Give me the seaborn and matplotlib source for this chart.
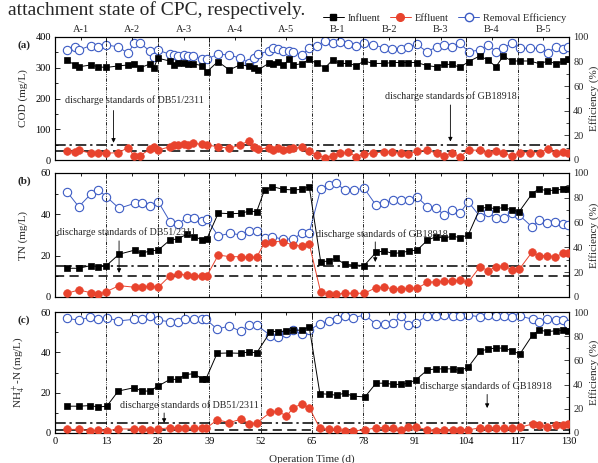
import numpy as np
import pandas as pd
import matplotlib
matplotlib.use("Agg")
import matplotlib.pyplot as plt
import matplotlib.transforms as mtransforms
from matplotlib.lines import Line2D
from matplotlib.ticker import MultipleLocator
import seaborn as sns

sns.set_theme(style="white")
plt.rcParams['font.family'] = ['Liberation Serif', 'DejaVu Serif']
plt.rcParams['mathtext.fontset'] = 'stix'

# ---------------- data ----------------
segment_labels = ["A-1", "A-2", "A-3", "A-4", "A-5", "B-1", "B-2", "B-3", "B-4", "B-5"]
segment_bounds = [13, 26, 39, 52, 65, 78, 91, 104, 117]

cod_days = [3, 5, 6, 9, 11, 13,
            16, 18.5, 20, 21.5, 24, 25, 26,
            29, 30, 31.2, 32.5, 33.7, 35, 37.1, 38.4,
            41.2, 44.1, 46.9, 49.1, 50.3, 51.4,
            54, 55.2, 56.5, 57.7, 59.3, 60.3, 62.4, 64.3,
            66.2, 68.3, 70.2, 72.1, 74.2, 76.2, 78.2,
            80.5, 83.2, 85.3, 87.4, 89.4, 91.5,
            94.1, 96.5, 98.3, 100.5, 102.4, 104.6,
            107.4, 109.6, 111.5, 113.4, 115.5, 117.6,
            120.1, 122.6, 124.7, 126.6, 128.6, 129.8]
cod_influent = [325, 309, 303, 309, 303, 301,
                306, 309, 312, 300, 312, 300, 331,
                322, 309, 314, 317, 311, 313, 307, 287,
                320, 293, 310, 305, 298, 293,
                314, 311, 320, 309, 327, 309, 313, 327,
                314, 300, 325, 314, 314, 307, 322,
                314, 314, 317, 317, 317, 317,
                307, 303, 311, 311, 301, 320,
                338, 325, 303, 338, 322, 322,
                322, 313, 322, 313, 322, 327]
cod_effluent = [29, 27, 32, 22, 24, 22,
                24, 40, 14, 14, 35, 41, 32,
                43, 49, 49, 51, 50, 54, 51, 49,
                43, 38, 49, 63, 43, 35,
                40, 33, 40, 33, 35, 38, 41, 29,
                16, 8, 14, 22, 25, 11, 19,
                22, 27, 27, 22, 19, 29,
                32, 22, 14, 22, 11, 32,
                32, 22, 29, 22, 13, 24,
                24, 24, 36, 22, 27, 22]
cod_removal = [89.4, 92, 89.4, 93, 92, 93.5,
               92, 86.7, 95, 95, 88.6, 84, 89.4,
               86, 85.5, 84.8, 85, 84.8, 84.8, 82, 82,
               86, 85.4, 82.7, 79, 82.7, 86,
               88.6, 90.8, 90, 88.6, 88.6, 88, 85.4, 90.8,
               93, 96.7, 95, 96, 94, 93, 95,
               93.5, 91.3, 90.2, 90.2, 92, 94,
               88, 92, 93.5, 92, 95, 88,
               89.4, 93.5, 88, 90.8, 95, 90.8,
               90.8, 90.8, 87.2, 92, 90, 92]

tn_days = [3, 6, 9, 11, 13,
           16.2, 20.2, 21.9, 24, 26.1,
           29.1, 31, 33.3, 35.2, 37.3, 38.4,
           41.3, 44.3, 47.1, 49.1, 51,
           53, 55, 57.7, 60.3, 62.4, 64.3,
           67.2, 69.4, 71.1, 73.3, 75.5, 78.2,
           81.2, 83.2, 85.4, 87.5, 89.6, 91.6,
           94.2, 96.4, 98.4, 100.5, 102.4, 104.5,
           107.5, 109.6, 111.5, 113.6, 115.5, 117.4,
           120.6, 122.3, 124.5, 126.5, 128.6, 129.7]
tn_influent = [13.9, 13.9, 15.2, 14.7, 15.2,
               20.7, 22.7, 21.1, 22.3, 22.7,
               27.6, 28.1, 30.3, 29.2, 27.6, 28.1,
               40.6, 40.3, 40.5, 41.6, 41.3,
               51.8, 53.4, 52.1, 51.8, 52.1, 53.4,
               17.1, 17.4, 18.7, 15.8, 15.5, 15.2,
               21.6, 22.3, 21.1, 21.4, 22.3, 22.7,
               27.5, 29.2, 28.4, 29.5, 28.7, 30.0,
               42.9, 43.4, 42.6, 43.4, 42.1, 41.3,
               49.8, 52.3, 51.4, 51.8, 52.1, 52.1]
tn_effluent = [1.8, 3.4, 2.1, 1.3, 2.6,
               5.5, 4.7, 4.7, 5.3, 4.7,
               10.3, 11.1, 10.6, 10.2, 10.2, 10.2,
               20.3, 19.5, 19.5, 19.2, 19.2,
               26.3, 26.8, 26.8, 25.0, 24.7, 25.7,
               2.3, 1.3, 1.3, 1.8, 1.8, 1.8,
               4.5, 4.7, 4.0, 4.0, 4.2, 4.2,
               7.1, 7.4, 7.7, 7.7, 8.2, 7.1,
               14.7, 12.6, 14.7, 15.2, 13.1, 13.4,
               21.6, 20.0, 20.0, 19.5, 21.1, 21.1]
tn_removal = [85, 72.8, 82.8, 86.3, 80.9,
              71.5, 75.6, 75.6, 73.4, 76.9,
              60.7, 58.6, 64, 64, 61.3, 62.6,
              49.2, 51.4, 50, 53.2, 53.2,
              47.3, 48.6, 46.5, 47, 51.4, 51.9,
              87, 90.3, 91.7, 86.3, 86.3, 87.6,
              74, 76, 78, 78.5, 78.5, 80.5,
              72.8, 72, 66.1, 70.2, 67.5, 76.9,
              64.8, 68.8, 63.4, 64, 67.5, 66.1,
              56.7, 62.1, 59.4, 60.2, 58.9, 58.1]

nh4_days = [3, 6.1, 8.9, 11, 13.1,
            16, 20.1, 21.9, 24, 26.1,
            29.1, 31, 33, 35.2, 37.1, 38.2,
            41, 44.1, 47, 49.1, 51,
            54.5, 56.5, 58.5, 60.3, 62.4, 64.3,
            67, 69.4, 71.2, 73.3, 75.3, 78.4,
            81.2, 83.5, 85.6, 87.5, 89.4, 91.3,
            94.2, 96.4, 98.4, 100.6, 102.4, 104.5,
            107.5, 109.6, 111.5, 113.6, 115.5, 117.6,
            120.8, 122.5, 124.5, 126.7, 128.6, 129.8]
nh4_influent = [13.3, 13.3, 13.6, 12.9, 13.3,
                20.8, 22.5, 20.8, 20.8, 23.3,
                26.6, 26.6, 29.0, 29.4, 26.9, 26.9,
                39.5, 39.7, 39.5, 40.3, 39.7,
                50.3, 50.3, 50.5, 51.0, 51.0, 52.6,
                19.5, 19.2, 18.7, 19.8, 18.3, 17.9,
                24.7, 24.7, 24.1, 24.1, 24.7, 26.4,
                31.3, 31.8, 31.8, 31.8, 31.0, 32.6,
                40.5, 41.7, 42.1, 42.1, 40.8, 39.2,
                48.7, 51.0, 50.3, 50.7, 51.0, 50.7]
nh4_effluent = [1.8, 1.8, 1.1, 1.5, 1.1,
                2.0, 2.0, 2.0, 1.5, 2.0,
                2.6, 2.6, 2.3, 2.3, 2.3, 2.3,
                6.5, 5.2, 6.8, 4.7, 5.0,
                10.3, 10.8, 8.3, 12.6, 14.3, 12.6,
                2.3, 1.8, 1.8, 1.1, 1.1, 1.5,
                2.6, 2.6, 2.3, 1.5, 3.2, 3.0,
                1.5, 1.1, 1.5, 1.5, 1.5, 1.5,
                2.6, 2.3, 2.6, 2.3, 2.3, 2.8,
                4.5, 4.0, 3.2, 4.0, 4.0, 4.5]
nh4_removal = [94.8, 93.2, 95.9, 94, 95.3,
               92.6, 94, 94, 96.7, 93.2,
               92, 92, 94, 94, 94, 94,
               85.8, 88.5, 83.9, 89.3, 89.3,
               80.5, 79, 82.5, 85, 81.7, 85,
               90.4, 92.6, 94, 96.7, 95.3, 97.5,
               89.9, 89.9, 91.2, 96.7, 89.3, 91.2,
               96.7, 96.7, 97.5, 96.7, 96.7, 97.5,
               95.9, 97.5, 96.7, 96.7, 95.9, 96.7,
               94, 92, 94, 93.2, 93.2, 90.4]

# discharge standards: (GB18918, DB51/2311)
cod_limits = (50, 30)
tn_limits = (15, 10)
nh4_limits = (5, 1.5)

# ---------------- styling ----------------
RED = "#e8432d"
BLUE = "#3d5cc4"
W, H = 598, 463
fig = plt.figure(figsize=(W / 100, H / 100), dpi=100)
fig.patch.set_facecolor("white")

left = 55 / W
width = (569 - 55) / W
def axrect(top_px, bot_px):
    return [left, 1 - bot_px / H, width, (bot_px - top_px) / H]

panels = [
    dict(rect=axrect(37, 160), days=cod_days, inf=cod_influent, eff=cod_effluent, rem=cod_removal,
         ymax=400, major=100, minor=50, ylabel="COD (mg/L)", tag="(a)", lim=cod_limits,
         db=dict(tx=2.5, ty=195, ax=14.8, ay0=170, ay1=47),
         gb=dict(tx=83.5, ty=208, ax=100, ay0=188, ay1=51)),
    dict(rect=axrect(173, 297), days=tn_days, inf=tn_influent, eff=tn_effluent, rem=tn_removal,
         ymax=60, major=20, minor=10, ylabel="TN (mg/L)", tag="(b)", lim=tn_limits,
         db=dict(tx=0.4, ty=31.5, ax=16.2, ay0=28.5, ay1=10.3),
         gb=dict(tx=66.0, ty=30.5, ax=81.0, ay0=28.0, ay1=15.6)),
    dict(rect=axrect(312, 433), days=nh4_days, inf=nh4_influent, eff=nh4_effluent, rem=nh4_removal,
         ymax=60, major=20, minor=10, ylabel=r"NH$_4^+$-N (mg/L)", tag="(c)", lim=nh4_limits,
         db=dict(tx=16.4, ty=13.8, ax=27.6, ay0=11.3, ay1=3.6),
         gb=dict(tx=92.3, ty=23.0, ax=109.3, ay0=20.5, ay1=11.0)),
]

FS = 7.5
for i, p in enumerate(panels):
    ax = fig.add_axes(p["rect"])
    ax2 = ax.twinx()
    ax.set_zorder(ax2.get_zorder() + 1)
    ax.patch.set_visible(False)

    # vertical segment separators
    for b in segment_bounds:
        ax.axvline(b, color="black", lw=0.6, ls=(0, (4, 1.5, 1, 1.5, 1, 1.5)), zorder=1)
    # standards
    ax.axhline(p["lim"][0], color="black", lw=1.1, ls=(0, (7, 2.5, 1.5, 2.5)), zorder=1)
    ax.axhline(p["lim"][1], color="black", lw=1.1, ls=(0, (6, 3.5)), zorder=1)

    sns.lineplot(x=p["days"], y=p["inf"], ax=ax, color="black", lw=0.7, marker="s",
                 markersize=5, markeredgecolor="black", markeredgewidth=0.5, zorder=4)
    sns.lineplot(x=p["days"], y=p["eff"], ax=ax, color=RED, lw=0.7, marker="o",
                 markersize=5.5, markeredgecolor=RED, markeredgewidth=0.5, zorder=4)
    sns.lineplot(x=p["days"], y=p["rem"], ax=ax2, color=BLUE, lw=0.7, marker="o",
                 markersize=6, markerfacecolor="white", markeredgecolor=BLUE,
                 markeredgewidth=0.8, zorder=3)

    ax.set_xlim(0, 130)
    ax.set_ylim(0, p["ymax"])
    ax2.set_ylim(0, 100)
    ax.xaxis.set_major_locator(MultipleLocator(13))
    ax.xaxis.set_minor_locator(MultipleLocator(6.5))
    ax.yaxis.set_major_locator(MultipleLocator(p["major"]))
    ax.yaxis.set_minor_locator(MultipleLocator(p["minor"]))
    ax2.yaxis.set_major_locator(MultipleLocator(20))
    ax2.yaxis.set_minor_locator(MultipleLocator(10))

    ax.tick_params(axis="both", which="both", direction="in", top=True, labelsize=FS,
                   colors="black", pad=3)
    ax.tick_params(which="major", length=3.5, width=0.6)
    ax.tick_params(which="minor", length=2, width=0.6)
    ax.tick_params(axis="y", right=False)
    ax2.tick_params(axis="y", which="both", direction="in", labelsize=FS, pad=3)
    ax2.tick_params(which="major", length=3.5, width=0.6)
    ax2.tick_params(which="minor", length=2, width=0.6)
    for a in (ax, ax2):
        for s in a.spines.values():
            s.set_linewidth(0.8)
            s.set_color("black")

    if i < 2:
        ax.set_xticklabels([])
    ax.set_xlabel("")
    ax.set_ylabel(p["ylabel"], fontsize=FS + 0.5)
    ax.yaxis.set_label_coords(-0.052, 0.5)
    ax2.set_ylabel("Efficiency (%)", fontsize=FS + 0.5)
    ax2.yaxis.set_label_coords(1.039, 0.5)

    fig.text(18 / W, p["rect"][1] + p["rect"][3] - 8 / H, p["tag"], fontsize=FS + 0.5,
             fontweight="bold", va="center", ha="left")

    # annotations
    for key, txt in (("db", "discharge standards of DB51/2311"),
                     ("gb", "discharge standards of GB18918")):
        a = p[key]
        ax.text(a["tx"], a["ty"], txt, fontsize=7.2, ha="left", va="center", zorder=6)
        ax.annotate("", xy=(a["ax"], a["ay1"]), xytext=(a["ax"], a["ay0"]),
                    arrowprops=dict(arrowstyle="-|>", color="black", lw=0.6,
                                    mutation_scale=6), zorder=6)

    if i == 0:
        trans = mtransforms.blended_transform_factory(ax.transData, ax.transAxes)
        for k, lab in enumerate(segment_labels):
            ax.text(6.5 + 13 * k, 1.06, lab, transform=trans, ha="center", va="center",
                    fontsize=FS)
    if i == 2:
        ax.set_xlabel("Operation Time (d)", fontsize=FS + 0.5, labelpad=6)

# legend
handles = [
    Line2D([], [], color="black", lw=0.7, marker="s", markersize=5),
    Line2D([], [], color=RED, lw=0.7, marker="o", markersize=5.5),
    Line2D([], [], color=BLUE, lw=0.7, marker="o", markersize=6,
           markerfacecolor="white", markeredgecolor=BLUE),
]
fig.legend(handles, ["Influent", "Effluent", "Removal Efficiency"], loc="center right",
           bbox_to_anchor=(576 / W, 1 - 18 / H), ncol=3, frameon=False, fontsize=FS,
           handlelength=2.0, columnspacing=0.9, handletextpad=0.4)

# caption remnant at the top
fig.text(8 / W, 1 - 15 / H, "attachment state of CPC, respectively.", fontsize=14,
         ha="left", va="baseline")

fig.savefig("out.png", dpi=100, facecolor="white")
